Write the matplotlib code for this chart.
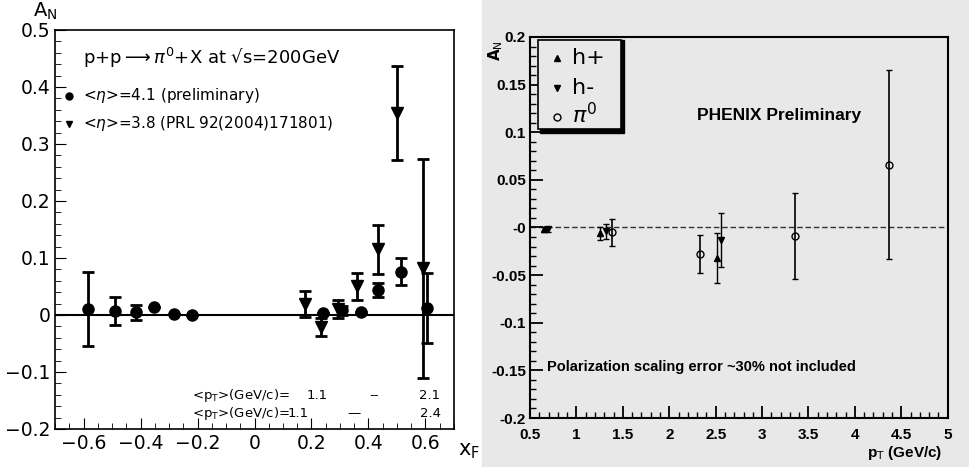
import matplotlib.pyplot as plt
import numpy as np
from matplotlib.ticker import MultipleLocator, FixedLocator, FixedFormatter

# ---- left panel: A_N vs x_F ----
xf_prelim = [-0.584, -0.49, -0.416, -0.353, -0.283, -0.22, 0.24, 0.306, 0.373, 0.434, 0.514, 0.606]
an_prelim = [0.010, 0.007, 0.005, 0.014, 0.002, 0.000, 0.004, 0.008, 0.006, 0.044, 0.076, 0.012]
err_prelim = [0.065, 0.025, 0.013, 0.0, 0.0, 0.0, 0.0, 0.008, 0.0, 0.012, 0.024, 0.062]

xf_prl = [0.177, 0.233, 0.292, 0.358, 0.433, 0.499, 0.592]
an_prl = [0.019, -0.021, 0.010, 0.050, 0.115, 0.354, 0.082]
err_prl = [0.023, 0.015, 0.016, 0.023, 0.043, 0.082, 0.192]

# ---- right panel: A_N vs pT ----
pt_hp = [0.65, 1.25, 2.51]
an_hp = [-0.002, -0.006, -0.032]
err_hp = [0.003, 0.007, 0.026]

pt_hm = [0.69, 1.32, 2.56]
an_hm = [-0.002, -0.004, -0.013]
err_hm = [0.003, 0.008, 0.028]

pt_pi0 = [1.38, 2.33, 3.36, 4.37]
an_pi0 = [-0.005, -0.028, -0.009, 0.066]
err_pi0 = [0.014, 0.020, 0.045, 0.099]

fig = plt.figure(figsize=(9.69, 4.67), dpi=100)
fig.patch.set_facecolor('white')

# gray scanned background for right half
fig.patches.append(plt.Rectangle((0.497, 0), 0.503, 1, transform=fig.transFigure,
                                 color='#e8e8e8', zorder=-10))

ax1 = fig.add_axes([0.0568, 0.0814, 0.4117, 0.8544])
ax1.set_xlim(-0.7, 0.7)
ax1.set_ylim(-0.2, 0.5)
ax1.axhline(0, color='black', lw=1.5, zorder=1)
ax1.errorbar(xf_prelim, an_prelim, yerr=err_prelim, fmt='o', color='black',
             ms=8, lw=2, capsize=4, capthick=2, zorder=3)
ax1.errorbar(xf_prl, an_prl, yerr=err_prl, fmt='v', color='black',
             ms=8, lw=2, capsize=4, capthick=2, zorder=3)

ax1.xaxis.set_major_locator(MultipleLocator(0.2))
ax1.xaxis.set_minor_locator(MultipleLocator(0.05))
ax1.yaxis.set_major_locator(MultipleLocator(0.1))
ax1.yaxis.set_minor_locator(MultipleLocator(0.02))
ax1.tick_params(which='both', direction='in', top=False, right=False, labelsize=13.5)
ax1.tick_params(which='major', length=8)
ax1.tick_params(which='minor', length=4)
ax1.xaxis.set_major_formatter(plt.FuncFormatter(lambda v, p: '0' if abs(v) < 1e-9 else f'{v:.1f}'.replace('-', '\u2212')))
ax1.yaxis.set_major_formatter(plt.FuncFormatter(lambda v, p: '0' if abs(v) < 1e-9 else f'{v:.1f}'.replace('-', '\u2212')))
for s in ax1.spines.values():
    s.set_linewidth(1.2)

ax1.text(0.07, 0.915, r'p+p$\longrightarrow\pi^0$+X at √s=200GeV', transform=ax1.transAxes, fontsize=13)
ax1.plot([0.035], [0.835], 'o', color='black', ms=5, transform=ax1.transAxes)
ax1.text(0.07, 0.835, r'<$\eta$>=4.1 (preliminary)', transform=ax1.transAxes, fontsize=11, va='center')
ax1.plot([0.035], [0.765], 'v', color='black', ms=5, transform=ax1.transAxes)
ax1.text(0.07, 0.765, r'<$\eta$>=3.8 (PRL 92(2004)171801)', transform=ax1.transAxes, fontsize=11, va='center')

fs = 9.5
ax1.text(0.343, 0.085, r'<p$_{\rm T}$>(GeV/c)=', transform=ax1.transAxes, fontsize=fs, va='center')
ax1.text(0.656, 0.085, '1.1', transform=ax1.transAxes, fontsize=fs, va='center', ha='center')
ax1.text(0.80, 0.085, '--', transform=ax1.transAxes, fontsize=fs, va='center', ha='center')
ax1.text(0.94, 0.085, '2.1', transform=ax1.transAxes, fontsize=fs, va='center', ha='center')
ax1.text(0.343, 0.038, r'<p$_{\rm T}$>(GeV/c)=', transform=ax1.transAxes, fontsize=fs, va='center')
ax1.text(0.61, 0.038, '1.1', transform=ax1.transAxes, fontsize=fs, va='center', ha='center')
ax1.text(0.75, 0.038, '\u2014', transform=ax1.transAxes, fontsize=fs, va='center', ha='center')
ax1.text(0.94, 0.038, '2.4', transform=ax1.transAxes, fontsize=fs, va='center', ha='center')

fig.text(0.034, 0.952, r'A$_{\rm N}$', fontsize=14, va='bottom')
fig.text(0.473, 0.025, r'x$_{\rm F}$', fontsize=15)

# ---- right panel ----
bold = dict(fontweight='bold', family=['Liberation Sans Narrow', 'Liberation Sans', 'DejaVu Sans'])
ax2 = fig.add_axes([0.547, 0.1049, 0.431, 0.8159])
ax2.set_facecolor('#e8e8e8')
ax2.set_xlim(0.5, 5)
ax2.set_ylim(-0.2, 0.2)
ax2.axhline(0, color='#333333', lw=1, ls=(0, (4, 2)), zorder=1)
ax2.errorbar(pt_hp, an_hp, yerr=err_hp, fmt='^', color='black', ms=4, lw=1, capsize=2, zorder=3)
ax2.errorbar(pt_hm, an_hm, yerr=err_hm, fmt='v', color='black', ms=4, lw=1, capsize=2, zorder=3)
ax2.errorbar(pt_pi0, an_pi0, yerr=err_pi0, fmt='o', color='black', mfc='none', ms=5, lw=1.2, capsize=2, zorder=3)

yt = [-0.2, -0.15, -0.1, -0.05, 0, 0.05, 0.1, 0.15, 0.2]
ytl = ['-0.2', '-0.15', '-0.1', '-0.05', '-0', '0.05', '0.1', '0.15', '0.2']
xt = [0.5, 1, 1.5, 2, 2.5, 3, 3.5, 4, 4.5, 5]
xtl = ['0.5', '1', '1.5', '2', '2.5', '3', '3.5', '4', '4.5', '5']
ax2.yaxis.set_major_locator(FixedLocator(yt))
ax2.yaxis.set_major_formatter(FixedFormatter(ytl))
ax2.xaxis.set_major_locator(FixedLocator(xt))
ax2.xaxis.set_major_formatter(FixedFormatter(xtl))
ax2.xaxis.set_minor_locator(MultipleLocator(0.1))
ax2.yaxis.set_minor_locator(MultipleLocator(0.01))
ax2.tick_params(which='both', direction='in', top=False, right=False, labelsize=11)
ax2.tick_params(axis='y', pad=3)
ax2.tick_params(axis='x', pad=7)
ax2.tick_params(which='major', length=9, width=1.3)
ax2.tick_params(which='minor', length=4, width=1)
for lab in ax2.get_xticklabels() + ax2.get_yticklabels():
    lab.set_fontweight('bold')
    lab.set_family(['Liberation Sans Narrow', 'Liberation Sans', 'DejaVu Sans'])
for s in ax2.spines.values():
    s.set_linewidth(1.5)

# legend box with shadow
ax2.add_patch(plt.Rectangle((0.024, 0.748), 0.2, 0.245, transform=ax2.transAxes,
                            facecolor='black', edgecolor='black', zorder=4))
ax2.add_patch(plt.Rectangle((0.018, 0.758), 0.2, 0.235, transform=ax2.transAxes,
                            facecolor='#e8e8e8', edgecolor='black', lw=1.2, zorder=5))
ax2.plot([0.065], [0.945], '^', color='black', ms=4, transform=ax2.transAxes, zorder=6)
ax2.text(0.1, 0.945, 'h+', transform=ax2.transAxes, fontsize=16, va='center', zorder=6)
ax2.plot([0.065], [0.865], 'v', color='black', ms=4, transform=ax2.transAxes, zorder=6)
ax2.text(0.1, 0.865, 'h-', transform=ax2.transAxes, fontsize=16, va='center', zorder=6)
ax2.plot([0.065], [0.79], 'o', color='black', mfc='none', ms=5, transform=ax2.transAxes, zorder=6)
ax2.text(0.1, 0.795, r'$\pi^0$', transform=ax2.transAxes, fontsize=16, va='center', zorder=6)

ax2.text(0.4, 0.795, 'PHENIX Preliminary', transform=ax2.transAxes, fontsize=12.5, va='center', **bold)
ax2.text(0.04, 0.135, 'Polarization scaling error ~30% not included', transform=ax2.transAxes,
         fontsize=10.5, va='center', **bold)

fig.text(0.502, 0.914, r'A$_{\rm N}$', fontsize=11, rotation=90, fontweight='bold', va='top')
fig.text(0.895, 0.022, r'p$_{\rm T}$ (GeV/c)', fontsize=11, **bold)

fig.savefig('out.png', dpi=100)
